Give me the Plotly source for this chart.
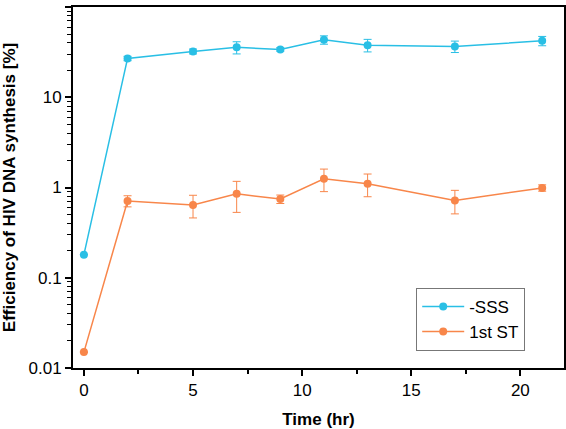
import plotly.graph_objects as go

time_hr = [0, 2, 5, 7, 9, 11, 13, 17, 21]
sss_vals = [0.18, 26.9, 32.2, 35.7, 33.9, 43.3, 37.8, 36.6, 42.2]
sss_err = [0, 1.5, 2.0, 5.5, 1.5, 4.6, 6.0, 5.3, 5.0]
st_vals = [0.015, 0.71, 0.64, 0.85, 0.745, 1.25, 1.1, 0.72, 0.99]
st_err = [0, 0.1, 0.18, 0.32, 0.08, 0.35, 0.31, 0.21, 0.08]

cyan = "#29BFE5"
orange = "#F8864A"

fig = go.Figure()
fig.add_trace(go.Scatter(
    x=time_hr, y=sss_vals, name="-SSS", mode="lines+markers",
    line=dict(color=cyan, width=1.5), marker=dict(color=cyan, size=8),
    error_y=dict(type="data", array=sss_err, color=cyan, thickness=1, width=4),
))
fig.add_trace(go.Scatter(
    x=time_hr, y=st_vals, name="1st ST", mode="lines+markers",
    line=dict(color=orange, width=1.5), marker=dict(color=orange, size=8),
    error_y=dict(type="data", array=st_err, color=orange, thickness=1, width=4),
))

font_family = "Liberation Sans, Arial, sans-serif"
fig.update_layout(
    width=566, height=429,
    margin=dict(l=73, r=2, t=7, b=61, autoexpand=False),
    paper_bgcolor="white", plot_bgcolor="white",
    font=dict(family=font_family, size=17, color="black"),
    legend=dict(x=0.699, y=0.222, xanchor="left", yanchor="top",
                bordercolor="#777777", borderwidth=1, bgcolor="white",
                font=dict(size=17), tracegroupgap=0, itemwidth=42),
    showlegend=True,
)
fig.update_xaxes(
    range=[-0.5, 22], tick0=0, dtick=5,
    showgrid=False, zeroline=False,
    showline=True, linecolor="black", linewidth=2, mirror=True,
    ticks="outside", ticklen=6, tickwidth=1.5, tickcolor="black",
    minor=dict(dtick=2.5, tick0=0, ticks="outside", ticklen=4, tickwidth=1.5, tickcolor="black", showgrid=False),
    title=dict(text="<b>Time (hr)</b>", font=dict(size=17), standoff=14),
)
fig.update_yaxes(
    type="log", range=[-2, 2], dtick=1,
    tickvals=[0.01, 0.1, 1, 10, 100], ticktext=["0.01", "0.1", "1", "10", "100"],
    showgrid=False, zeroline=False,
    showline=True, linecolor="black", linewidth=2, mirror=True,
    ticks="outside", ticklen=6, tickwidth=1.5, tickcolor="black",
    minor=dict(dtick="D1", ticks="outside", ticklen=4, tickwidth=1, tickcolor="black", showgrid=False),
    title=dict(text="<b>Efficiency of HIV DNA synthesis [%]</b>", font=dict(size=17), standoff=11),
)

fig.write_html("out.html", config={"displayModeBar": False},
               post_script="document.body.style.margin='0';document.body.style.overflow='hidden';")
